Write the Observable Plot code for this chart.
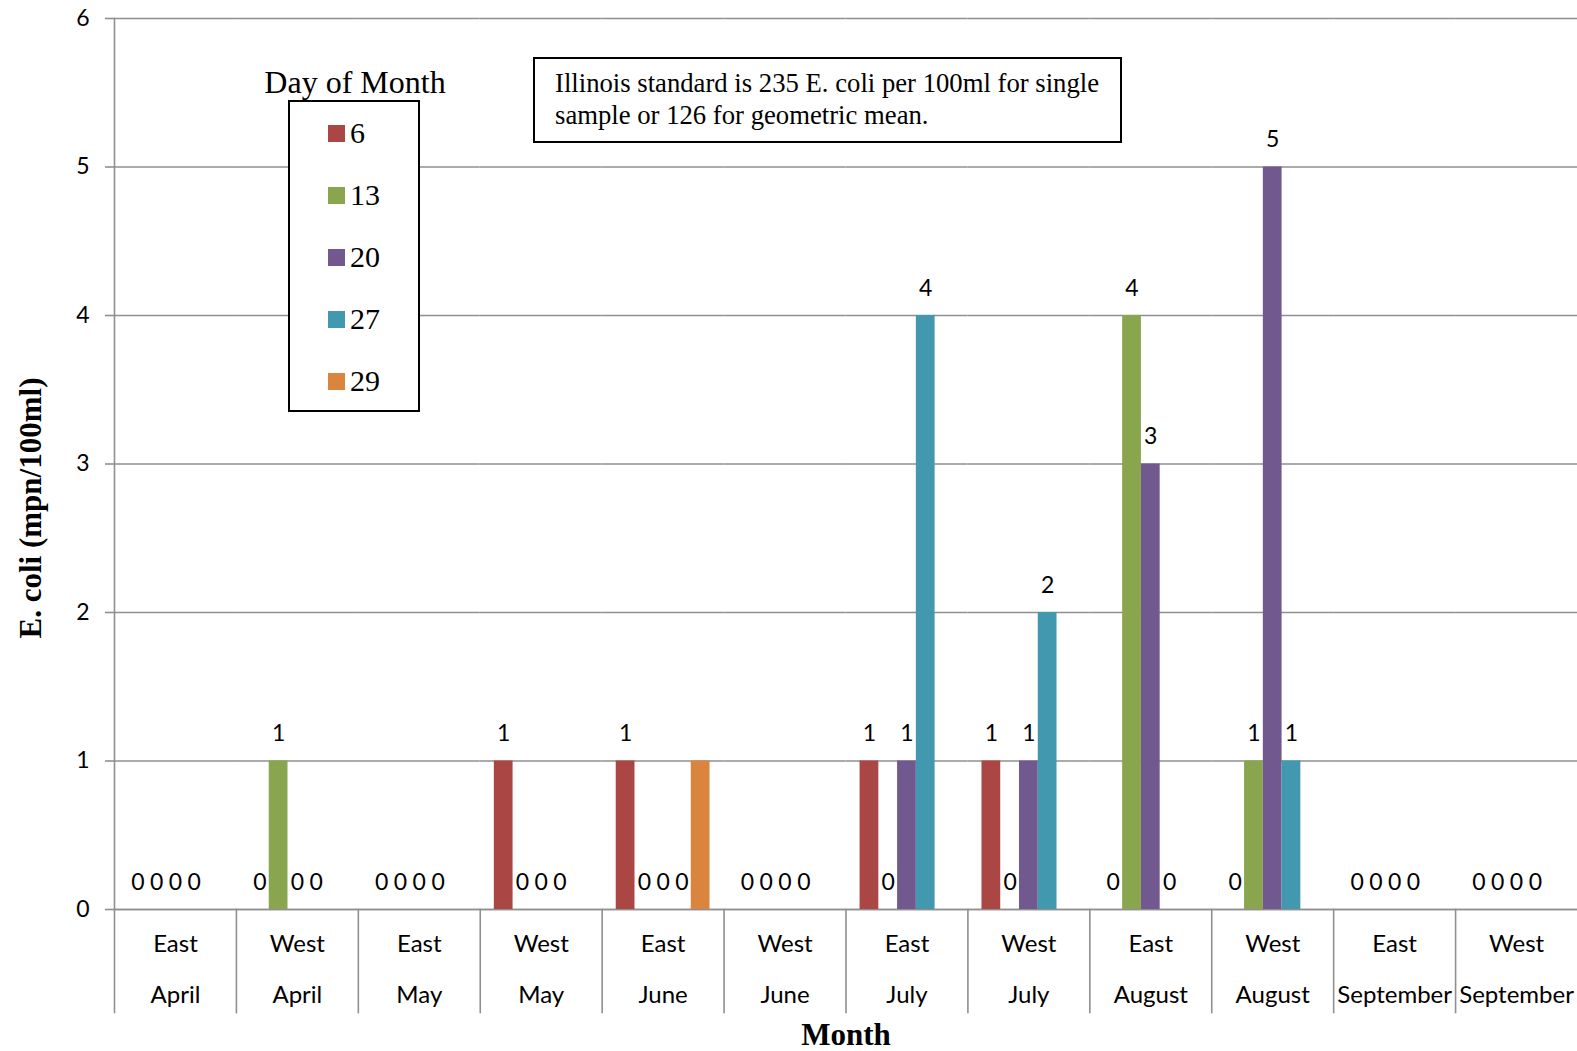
<!DOCTYPE html>
<html>
<head>
<meta charset="utf-8">
<script src="https://cdn.jsdelivr.net/npm/d3@7"></script>
<script src="https://cdn.jsdelivr.net/npm/@observablehq/plot@0.6"></script>
<style>
  html, body { margin: 0; padding: 0; background: #fff; }
  #wrap { position: relative; width: 1577px; height: 1051px; overflow: hidden; }
  #wrap svg { display: block; }
  .serif { font-family: "Liberation Serif", "Times New Roman", serif; color: #000; }
  #ytitle { position: absolute; left: 30px; top: 508px; transform: translate(-50%, -50%) rotate(-90deg);
            font-weight: bold; font-size: 31px; white-space: nowrap; line-height: 1; }
  #xtitle { position: absolute; left: 846px; top: 1019px; transform: translateX(-50%);
            font-weight: bold; font-size: 31px; line-height: 31px; white-space: nowrap; }
  #legendTitle { position: absolute; left: 355px; top: 66px; transform: translateX(-50%);
                 font-size: 32px; line-height: 32px; white-space: nowrap; }
  #legendBox { position: absolute; left: 288px; top: 100px; width: 132px; height: 312px;
               border: 2px solid #000; box-sizing: border-box; background: #fff; }
  .item { position: absolute; left: 328px; height: 30px; display: flex; align-items: center; }
  .sw { width: 17px; height: 17px; margin-right: 5px; }
  .item span.t { font-size: 30px; line-height: 30px; }
  #noteBox { position: absolute; left: 533px; top: 57px; width: 589px; height: 86px;
             border: 2px solid #000; box-sizing: border-box; background: #fff; }
  #noteText { position: absolute; left: 555px; top: 68px; width: 565px;
              font-size: 26.7px; line-height: 31.7px; }
</style>
</head>
<body>
<div id="wrap"></div>
<script>
// ---- data ----
const sites  = ["East","West","East","West","East","West","East","West","East","West","East","West"];
const months = ["April","April","May","May","June","June","July","July","August","August","September","September"];
const days   = [6, 13, 20, 27, 29];
const day6   = [0, 0, 0, 1, 1, 0, 1, 1, 0, 0, 0, 0];
const day13  = [0, 1, 0, 0, 0, 0, 0, 0, 4, 1, 0, 0];
const day20  = [0, 0, 0, 0, 0, 0, 1, 1, 3, 5, 0, 0];
const day27  = [0, 0, 0, 0, 0, 0, 4, 2, 0, 1, 0, 0];
const day29  = [null, null, null, null, 1, null, null, null, null, null, null, null];
const colors = ["#AA4643", "#89A54E", "#71588F", "#4198AF", "#DB843D"];
const yTicks = [0, 1, 2, 3, 4, 5, 6];
const yTitle = "E. coli (mpn/100ml)";
const xTitle = "Month";
const legendTitle = "Day of Month";
const noteText = "Illinois standard is 235 E. coli per 100ml for single sample or 126 for geometric mean.";

// ---- build table ----
const groups = sites.map((s, i) => `${s}|${months[i]}`);
const seriesValues = [day6, day13, day20, day27, day29];
const rows = [];
groups.forEach((g, i) => {
  days.forEach((d, k) => {
    const v = seriesValues[k][i];
    if (v !== null && v !== undefined) rows.push({group: g, day: d, value: v});
  });
});
const labelled = rows.filter(r => r.day !== 29);

const gray = "#8f8f8f";
const lw = 1.6;

const chart = Plot.plot({
  width: 1577,
  height: 1051,
  marginLeft: 114,
  marginRight: 0,
  marginTop: 18,
  marginBottom: 142,
  style: {fontFamily: "Lato, sans-serif", fontSize: "24px", color: "#000", background: "#fff"},
  fx: {domain: groups, padding: 0, round: false, label: null},
  x: {domain: days, paddingInner: 0, paddingOuter: 0.75, round: false, axis: null},
  y: {domain: [0, 6], label: null},
  color: {domain: days, range: colors},
  marks: [
    Plot.gridY(yTicks, {stroke: gray, strokeOpacity: 1, strokeWidth: lw}),
    Plot.frame({anchor: "left", facetAnchor: "left", stroke: gray, strokeWidth: lw}),
    Plot.frame({anchor: "left", insetTop: 891, insetBottom: -103, stroke: gray, strokeWidth: lw}),
    Plot.ruleY([0], {stroke: gray, strokeWidth: lw}),
    Plot.axisY(yTicks, {tickSize: 9, tickPadding: 16, tickFormat: d => String(d), stroke: gray, strokeWidth: lw, fontSize: 23, label: null}),
    Plot.barY(rows, {fx: "group", x: "day", y: "value", fill: "day"}),
    Plot.text(labelled, {fx: "group", x: "day", y: "value", text: d => String(d.value), dy: -27, fontSize: 23, fill: "#000"}),
    Plot.axisFx({anchor: "bottom", tickSize: 0, tickPadding: 25, tickFormat: g => g.split("|")[0], fontSize: 24, label: null}),
    Plot.axisFx({anchor: "bottom", tickSize: 0, tickPadding: 76, tickFormat: g => g.split("|")[1], fontSize: 24, label: null})
  ]
});

const wrap = document.getElementById("wrap");
wrap.appendChild(chart);

function addDiv(id, cls, text) {
  const el = document.createElement("div");
  if (id) el.id = id;
  if (cls) el.className = cls;
  if (text !== undefined) el.textContent = text;
  wrap.appendChild(el);
  return el;
}
addDiv("ytitle", "serif", yTitle);
addDiv("xtitle", "serif", xTitle);
addDiv("noteBox", "", undefined);
addDiv("noteText", "serif", noteText);
addDiv("legendBox", "", undefined);
addDiv("legendTitle", "serif", legendTitle);
days.forEach((d, i) => {
  const it = addDiv(null, "item serif", undefined);
  it.style.top = (118 + 62 * i) + "px";
  const sw = document.createElement("span");
  sw.className = "sw";
  sw.style.background = colors[i];
  const t = document.createElement("span");
  t.className = "t";
  t.textContent = String(d);
  it.appendChild(sw);
  it.appendChild(t);
});
</script>
</body>
</html>
